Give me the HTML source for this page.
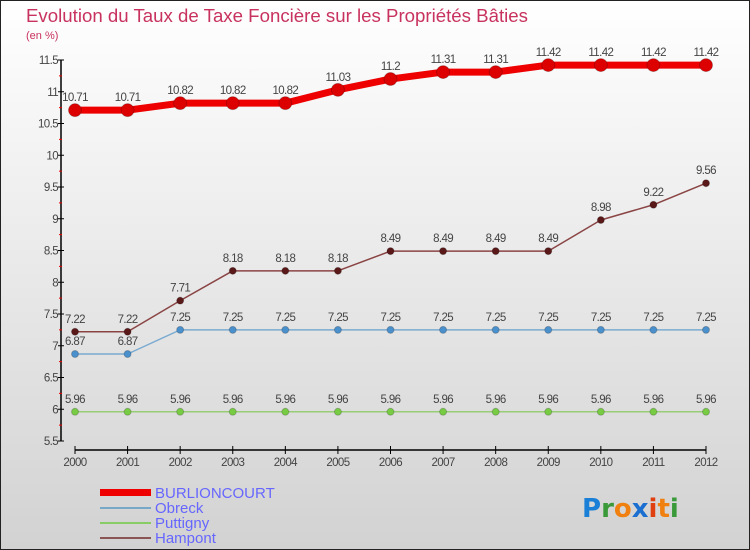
<!DOCTYPE html>
<html><head><meta charset="utf-8"><style>
body{margin:0}
#c{width:750px;height:550px;position:relative;overflow:hidden;font-family:"Liberation Sans",sans-serif}
</style></head><body>
<div id="c">
<svg id="s" width="750" height="550" xmlns="http://www.w3.org/2000/svg">
<defs><linearGradient id="bg" x1="0" y1="0" x2="0" y2="1"><stop offset="0" stop-color="#ffffff"/><stop offset="1" stop-color="#d2d2d2"/></linearGradient></defs>
<rect x="0.5" y="0.5" width="749" height="549" fill="url(#bg)" stroke="#222"/>
<text x="26" y="22" font-size="18" fill="#c8325e" textLength="502" lengthAdjust="spacingAndGlyphs">Evolution du Taux de Taxe Foncière sur les Propriétés Bâties</text>
<text x="26" y="39" font-size="11" fill="#c8325e">(en %)</text>
<g id="plot"></g>
<g>
<rect x="100" y="489" width="51" height="7" fill="#ee0000"/>
<text x="155" y="498" font-size="15" fill="#6666ff">BURLIONCOURT</text>
<rect x="100" y="507" width="51" height="2" fill="#78a8c8"/>
<text x="155" y="513" font-size="15" fill="#6666ff">Obreck</text>
<rect x="100" y="522" width="51" height="2" fill="#88cc66"/>
<text x="155" y="528" font-size="15" fill="#6666ff">Puttigny</text>
<rect x="100" y="537" width="51" height="2" fill="#8a5555"/>
<text x="155" y="543" font-size="15" fill="#6666ff">Hampont</text>
</g>
<g font-size="26" font-weight="bold" font-family="DejaVu Sans, sans-serif">
<text x="582" y="517"><tspan fill="#1a7fd6">P</tspan><tspan fill="#3a9a3a">r</tspan><tspan fill="#f08010">o</tspan><tspan fill="#1a6fd0">x</tspan><tspan fill="#e04010">i</tspan><tspan fill="#f08010">t</tspan><tspan fill="#3a9a3a">i</tspan></text>
</g>
</svg>
</div>
<script>
const years=["2000","2001","2002","2003","2004","2005","2006","2007","2008","2009","2010","2011","2012"];
const burlioncourt=[10.71,10.71,10.82,10.82,10.82,11.03,11.2,11.31,11.31,11.42,11.42,11.42,11.42];
const obreck=[6.87,6.87,7.25,7.25,7.25,7.25,7.25,7.25,7.25,7.25,7.25,7.25,7.25];
const puttigny=[5.96,5.96,5.96,5.96,5.96,5.96,5.96,5.96,5.96,5.96,5.96,5.96,5.96];
const hampont=[7.22,7.22,7.71,8.18,8.18,8.18,8.49,8.49,8.49,8.49,8.98,9.22,9.56];
const yTicks=["5.5","6","6.5","7","7.5","8","8.5","9","9.5","10","10.5","11","11.5"];
const NS="http://www.w3.org/2000/svg";
const g=document.getElementById("plot");
const X=i=>75+i*(706-75)/(years.length-1);
const Y=v=>441-(v-5.5)*(381/6);
function el(t,a,p){const e=document.createElementNS(NS,t);for(const k in a)e.setAttribute(k,a[k]);(p||g).appendChild(e);return e;}
const ya=el("line",{x1:61,y1:60,x2:61,y2:441,stroke:"#000","stroke-width":1.5});


yTicks.forEach((t,k)=>{const v=parseFloat(t),y=Y(v);
 el("line",{x1:58,y1:y,x2:64,y2:y,stroke:"#000"});
 if(k<yTicks.length-1)el("line",{x1:59,y1:Y(v+0.25),x2:62,y2:Y(v+0.25),stroke:"#e00"});
 const tx=el("text",{x:58,y:y+4,"text-anchor":"end","font-size":11.5,fill:"#444","letter-spacing":"-0.6"});
 
 
 tx.textContent=t;});
const xa=el("line",{x1:75,y1:450,x2:706,y2:450,stroke:"#000","stroke-width":1.5});


years.forEach((yr,i)=>{el("line",{x1:X(i),y1:446,x2:X(i),y2:454,stroke:"#000"});
 const tx=el("text",{x:X(i),y:466,"text-anchor":"middle","font-size":11.5,fill:"#444","letter-spacing":"-0.6"});
 
 
 tx.textContent=yr;});
function series(name,data,color,w,r,dot){
 const pts=data.map((v,i)=>X(i)+","+Y(v)).join(" ");
 const pl=el("polyline",{points:pts,fill:"none",stroke:color,"stroke-width":w,"stroke-linejoin":"round"});
 
 
 data.forEach((v,i)=>{const c=el("circle",{cx:X(i),cy:Y(v),r:r,fill:dot,stroke:"#0003"});
  
  
  const t=el("text",{x:X(i),y:Y(v)-9,"text-anchor":"middle","font-size":11.5,fill:"#444","letter-spacing":"-0.6"});
  
  
  t.textContent=String(v);});
}
series("puttigny",puttigny,"#99cc77",1.5,3.5,"#77cc44");
series("obreck",obreck,"#7aaad0",1.5,3.5,"#4a90cc");
series("hampont",hampont,"#8a4444",1.5,3.5,"#5a1818");
series("burlioncourt",burlioncourt,"#ee0000",7,6.5,"#dd0000");
</script>
</body></html>
